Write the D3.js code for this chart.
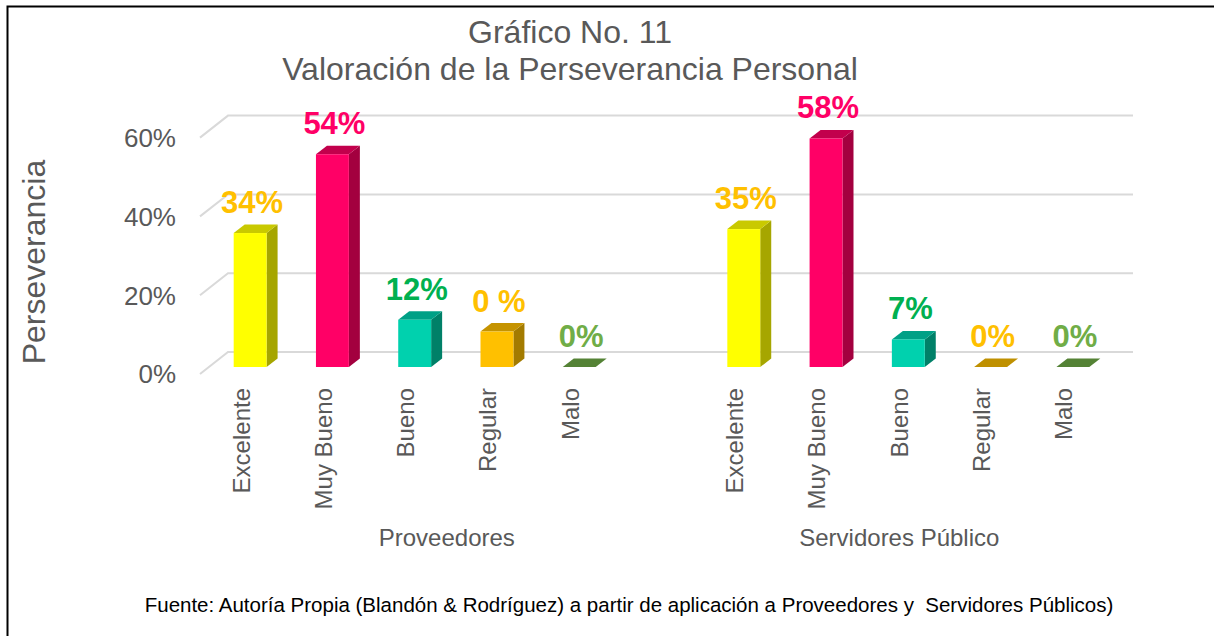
<!DOCTYPE html>
<html>
<head>
<meta charset="utf-8">
<script src="https://cdn.jsdelivr.net/npm/d3@7/dist/d3.min.js"></script>
<style>
  html, body { margin: 0; padding: 0; background: #fff; }
  svg { display: block; font-family: "Liberation Sans", Arial, sans-serif; }
</style>
</head>
<body>
<div id="chart"></div>
<script>
const groups = ['Proveedores', 'Servidores Público'];
const categories = ['Excelente', 'Muy Bueno', 'Bueno', 'Regular', 'Malo'];
const proveedores = [34, 54, 12, 9, 0];
const servidores = [35, 58, 7, 0, 0];
const proveedoresLabels = ['34%', '54%', '12%', '0 %', '0%'];
const servidoresLabels = ['35%', '58%', '7%', '0%', '0%'];
const yTicks = [0, 20, 40, 60];

const barColors = [
  { front: '#FFFF00', side: '#A6A600', top: '#C9C900', label: '#FFC000' },
  { front: '#FF0066', side: '#A3003F', top: '#C2004C', label: '#FF0066' },
  { front: '#00D1AE', side: '#008068', top: '#00A086', label: '#00B050' },
  { front: '#FFC000', side: '#A37B00', top: '#C59300', label: '#FFC000' },
  { front: '#70AD47', side: '#486F2D', top: '#548235', label: '#70AD47' }
];
const flatRegular = '#BF9000';

class Bar3DChart {
  constructor(el) {
    this.el = el;
    this.width = 1214;
    this.height = 636;
    this.depth = { dx: 28, dy: -22 };
    this.barOffset = { dx: 9, dy: -7 };
    this.barDepth = { dx: 11, dy: -8.5 };
    // 11 slots: group one has a blank slot at its end
    this.x0 = d3.scaleBand().domain(groups).range([200, 1105]).paddingInner(1 / 6);
    this.x1 = d3.scaleBand().domain(categories).range([0, this.x0.bandwidth()]);
    this.y = d3.scaleLinear().domain([0, 60]).range([374, 137.6]);
  }

  render() {
    const svg = d3.select(this.el).append('svg')
      .attr('width', this.width)
      .attr('height', this.height);

    svg.append('rect')
      .attr('x', 7.5).attr('y', 6.5)
      .attr('width', 1220).attr('height', 650)
      .attr('fill', '#fff')
      .attr('stroke', '#000')
      .attr('stroke-width', 2);

    // title
    svg.append('text')
      .attr('x', 570).attr('y', 43)
      .attr('text-anchor', 'middle')
      .attr('font-size', 32).attr('fill', '#595959')
      .text('Gráfico No. 11');
    svg.append('text')
      .attr('x', 570).attr('y', 80)
      .attr('text-anchor', 'middle')
      .attr('font-size', 32).attr('fill', '#595959')
      .text('Valoración de la Perseverancia Personal');

    // gridlines with perspective
    const [x0, x1] = this.x0.range();
    const grid = svg.append('g').attr('class', 'grid');
    yTicks.forEach(t => {
      const yy = this.y(t);
      grid.append('path')
        .attr('d', `M${x0},${yy}L${x0 + this.depth.dx},${yy + this.depth.dy}L${x1 + this.depth.dx},${yy + this.depth.dy}`)
        .attr('fill', 'none')
        .attr('stroke', '#D9D9D9')
        .attr('stroke-width', 2);
      svg.append('text')
        .attr('x', 176).attr('y', yy)
        .attr('dy', '0.36em')
        .attr('text-anchor', 'end')
        .attr('font-size', 26).attr('fill', '#595959')
        .text(t + '%');
    });

    svg.append('text')
      .attr('transform', 'translate(45,262) rotate(-90)')
      .attr('text-anchor', 'middle')
      .attr('font-size', 32).attr('fill', '#595959')
      .text('Perseverancia');

    const series = [
      { group: groups[0], values: proveedores, labels: proveedoresLabels },
      { group: groups[1], values: servidores, labels: servidoresLabels }
    ];
    const slot = this.x1.bandwidth();
    const bw = slot * 0.4;

    series.forEach(s => {
      const gx = this.x0(s.group);
      const g = svg.append('g');
      s.values.forEach((v, i) => {
        const c = barColors[i];
        const cx = gx + this.x1(categories[i]) + slot / 2;
        const left = cx - bw / 2 + this.barOffset.dx;
        const right = left + bw;
        const base = this.y(0) + this.barOffset.dy;
        const top = base - (this.y(0) - this.y(v));
        const ddx = this.barDepth.dx, ddy = this.barDepth.dy;
        if (v > 0) {
          g.append('path')
            .attr('d', `M${right},${top}L${right + ddx},${top + ddy}L${right + ddx},${base + ddy}L${right},${base}Z`)
            .attr('fill', c.side);
          g.append('path')
            .attr('d', `M${left},${top}L${left + ddx},${top + ddy}L${right + ddx},${top + ddy}L${right},${top}Z`)
            .attr('fill', c.top);
          g.append('rect')
            .attr('x', left).attr('y', top)
            .attr('width', bw).attr('height', base - top)
            .attr('fill', c.front);
        } else {
          const fill = (i === 3) ? flatRegular : c.top;
          g.append('path')
            .attr('d', `M${left},${base}L${left + ddx},${base + ddy}L${right + ddx},${base + ddy}L${right},${base}Z`)
            .attr('fill', fill);
        }
        g.append('text')
          .attr('x', cx + this.barOffset.dx + 2)
          .attr('y', top - 20)
          .attr('text-anchor', 'middle')
          .attr('font-size', 31).attr('font-weight', 'bold')
          .attr('fill', c.label)
          .text(s.labels[i]);

        svg.append('text')
          .attr('transform', `translate(${cx},388) rotate(-90)`)
          .attr('text-anchor', 'end')
          .attr('dy', '0.35em')
          .attr('font-size', 24).attr('fill', '#595959')
          .text(categories[i]);
      });
    });

    // group labels; first group also spans its blank slot
    const step = this.x0.step();
    svg.append('text')
      .attr('x', this.x0(groups[0]) + step / 2).attr('y', 546)
      .attr('text-anchor', 'middle')
      .attr('font-size', 24).attr('fill', '#595959')
      .text(groups[0]);
    svg.append('text')
      .attr('x', this.x0(groups[1]) + this.x0.bandwidth() / 2).attr('y', 546)
      .attr('text-anchor', 'middle')
      .attr('font-size', 24).attr('fill', '#595959')
      .text(groups[1]);

    svg.append('text')
      .attr('x', 629).attr('y', 612)
      .attr('text-anchor', 'middle')
      .attr('font-size', 20.5).attr('fill', '#000')
      .text('Fuente: Autoría Propia (Blandón & Rodríguez) a partir de aplicación a Proveedores y\u00a0 Servidores Públicos)');
  }
}

new Bar3DChart('#chart').render();
</script>
</body>
</html>
